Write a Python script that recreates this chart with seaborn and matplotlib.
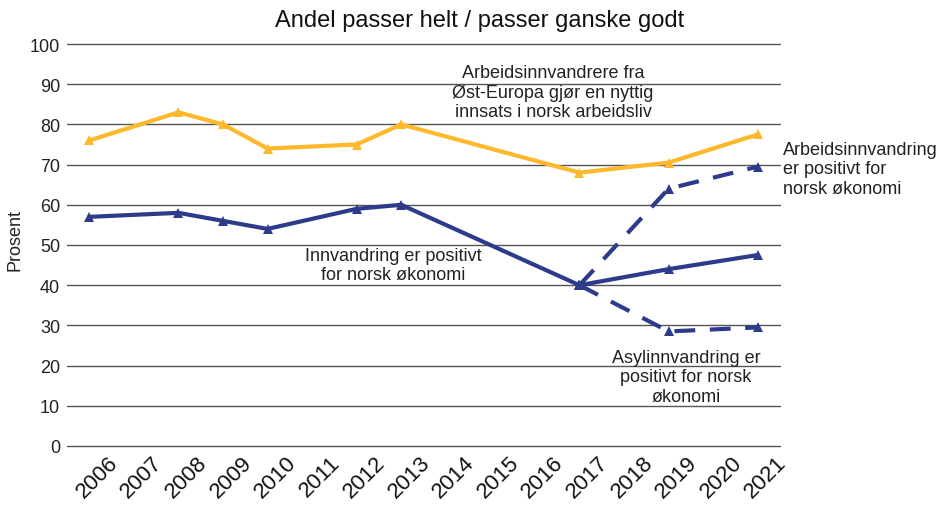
import matplotlib
matplotlib.use("Agg")
import matplotlib.pyplot as plt
import seaborn as sns

# Data
tick_years = list(range(2006, 2022))
years = [2006, 2008, 2009, 2010, 2012, 2013, 2017, 2019, 2021]
ost_europa = [76, 83, 80, 74, 75, 80, 68, 70.5, 77.5]
innvandring = [57, 58, 56, 54, 59, 60, 40, 44, 47.5]
arb_years = [2017, 2019, 2021]
arbeidsinnvandring = [40, 64, 69.5]
asyl_years = [2017, 2019, 2021]
asylinnvandring = [40, 28.5, 29.5]

yellow = "#FDB92B"
blue = "#2D3B8A"

sns.set_theme(style="white")
plt.rcParams['font.family'] = ['Liberation Sans', 'DejaVu Sans']

fig = plt.figure(figsize=(9.46, 5.10), dpi=100)
ax = fig.add_axes([67 / 946, 1 - 447 / 510, (780 - 67) / 946, (447 - 45) / 510])

for y in range(0, 101, 10):
    ax.axhline(y, color="#555555", lw=1.0, zorder=0, clip_on=False)

line_kw = dict(marker="^", markersize=7, markeredgewidth=0, linewidth=3.0, ax=ax)
sns.lineplot(x=years, y=ost_europa, color=yellow, **line_kw)
sns.lineplot(x=years, y=innvandring, color=blue, **line_kw)
sns.lineplot(x=arb_years, y=arbeidsinnvandring, color=blue, linestyle=(0, (5, 3.5)), **line_kw)
sns.lineplot(x=asyl_years, y=asylinnvandring, color=blue, linestyle=(0, (5, 3.5)), **line_kw)

ax.set_xlim(2005.5, 2021.5)
ax.set_ylim(0, 100)
ax.set_yticks(range(0, 101, 10))
# labels sit a little to the right of each year's point, as in the original
ax.set_xticks([y + 0.18 for y in tick_years])
ax.set_xticklabels([str(y) for y in tick_years], rotation=45, ha="center", fontsize=16, color="#111111")
ax.tick_params(axis="y", labelsize=13, colors="#222222", length=0, pad=5)
ax.tick_params(axis="x", length=0, pad=4)
for s in ax.spines.values():
    s.set_visible(False)
ax.set_ylabel("Prosent", fontsize=13, color="#222222")
ax.yaxis.set_label_coords(-0.0617, 0.515)

fig.text(480 / 946, 1 - 21 / 510, "Andel passer helt / passer ganske godt",
         ha="center", va="center", fontsize=17, color="#111111")

txt = dict(fontsize=13, color="#222222", linespacing=1.2)
fig.text(553 / 946, 1 - 93 / 510, "Arbeidsinnvandrere fra\nØst-Europa gjør en nyttig\ninnsats i norsk arbeidsliv",
         ha="center", va="center", **txt)
fig.text(783 / 946, 1 - 170 / 510, "Arbeidsinnvandring\ner positivt for\nnorsk økonomi",
         ha="left", va="center", **txt)
fig.text(393 / 946, 1 - 266 / 510, "Innvandring er positivt\nfor norsk økonomi",
         ha="center", va="center", **txt)
fig.text(686 / 946, 1 - 378 / 510, "Asylinnvandring er\npositivt for norsk\nøkonomi",
         ha="center", va="center", **txt)

fig.savefig("out.png", dpi=100)
